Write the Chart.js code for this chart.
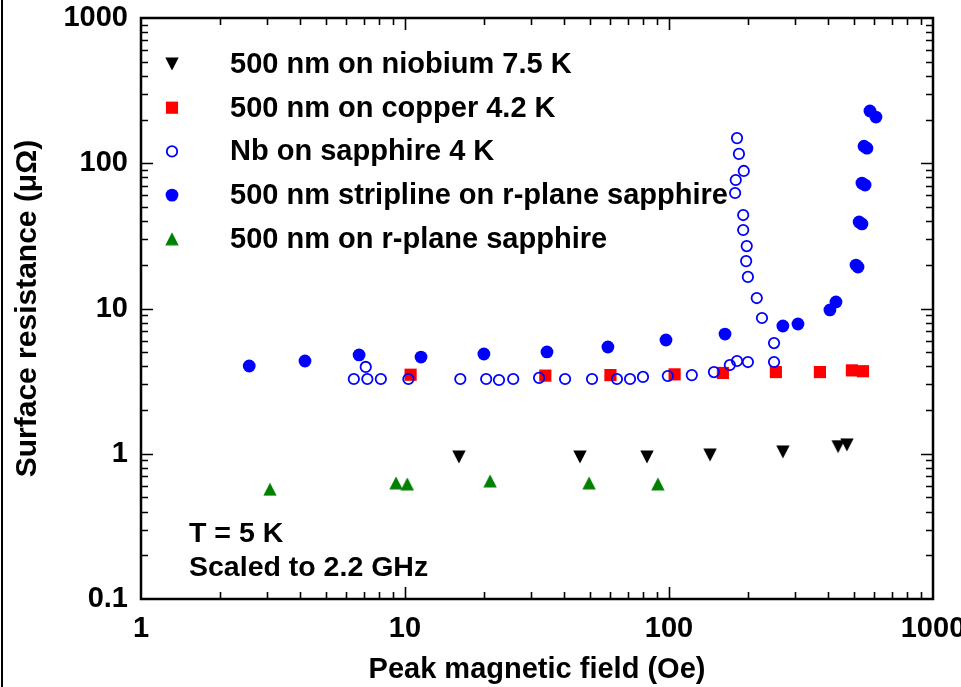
<!DOCTYPE html>
<html>
<head>
<meta charset="utf-8">
<script src="https://cdn.jsdelivr.net/npm/chart.js@4/dist/chart.umd.min.js"></script>
<style>
  html, body { margin: 0; padding: 0; background: #fff; }
  #wrap { width: 961px; height: 687px; position: relative; }
</style>
</head>
<body>
<div id="wrap"><canvas id="rs-chart"></canvas></div>
<script>
// Surface resistance vs peak magnetic field
var niobiumX = [16.0, 46, 82.5, 143, 270, 437, 472];
var niobiumY = [0.95, 0.95, 0.95, 0.98, 1.03, 1.12, 1.15];

var copperX = [10.5, 34, 60, 105, 160, 254, 373, 493, 543];
var copperY = [3.5, 3.45, 3.48, 3.52, 3.6, 3.65, 3.65, 3.75, 3.7];

var sapphireX = [6.4, 7.1, 7.2, 8.1, 10.3, 16.2, 20.3, 22.7, 25.7, 32.2, 40.4, 51.1, 63.5, 71.2, 79.7, 99, 122, 148, 170, 181, 199, 250,
                 250, 225, 215, 199, 196, 197, 191, 191, 178, 179, 192, 184, 181];
var sapphireY = [3.27, 3.96, 3.27, 3.27, 3.27, 3.27, 3.27, 3.22, 3.27, 3.33, 3.27, 3.27, 3.27, 3.27, 3.38, 3.43, 3.48, 3.65, 4.08, 4.35, 4.28, 4.28,
                 5.78, 8.6, 11.8, 16.5, 21.2, 26.9, 34.7, 44, 62.4, 76.7, 88.5, 116, 149];

var striplineX = [2.57, 4.18, 6.7, 11.5, 19.9, 34.5, 58.7, 97.4, 163, 270, 308, 407, 429, 511, 520, 525, 538, 538, 553, 548, 562, 577, 608];
var striplineY = [4.02, 4.35, 4.79, 4.63, 4.86, 5.02, 5.43, 6.07, 6.67, 7.58, 7.82, 9.77, 11.1, 19.9, 19.3, 39.4, 38.2, 73, 70.8, 131, 127, 229, 208];

var rplaneX = [3.08, 9.25, 10.2, 21.0, 49.8, 90.8];
var rplaneY = [0.57, 0.63, 0.62, 0.65, 0.63, 0.62];

var seriesLabels = [
    '500 nm on niobium 7.5 K',
    '500 nm on copper 4.2 K',
    'Nb on sapphire 4 K',
    '500 nm stripline on r-plane sapphire',
    '500 nm on r-plane sapphire'
];

var xTickValues = [1, 10, 100, 1000];
var xTickLabels = ['1', '10', '100', '1000'];
var yTickValues = [0.1, 1, 10, 100, 1000];
var yTickLabels = ['0.1', '1', '10', '100', '1000'];

var notes = ['T = 5 K', 'Scaled to 2.2 GHz'];

var FONT = '"Liberation Sans", Arial, sans-serif';

function pairs(xs, ys) {
    return xs.map(function (x, i) { return { x: x, y: ys[i] }; });
}

// the original triangles are a bit taller than equilateral, so draw them as small images
function triangleImage(color, down) {
    var c = document.createElement('canvas');
    c.width = 14;
    c.height = 14;
    var g = c.getContext('2d');
    g.fillStyle = color;
    g.beginPath();
    if (down) {
        g.moveTo(0.3, 0.5); g.lineTo(13.7, 0.5); g.lineTo(7, 13.5);
    } else {
        g.moveTo(7, 0.5); g.lineTo(13.7, 13.5); g.lineTo(0.3, 13.5);
    }
    g.closePath();
    g.fill();
    return c;
}

// ticks inside the box on all four sides, the box, frame line, legend and notes
var boxPlugin = {
    id: 'boxTicks',
    afterDraw: function (chart) {
        var ctx = chart.ctx;
        var a = chart.chartArea;
        var xs = chart.scales.x, ys = chart.scales.y;
        ctx.save();
        ctx.strokeStyle = '#000';
        ctx.lineWidth = 1.6;
        var d, m, v, p, len;
        for (d = 0; d < 3; d++) {
            for (m = 1; m <= 9; m++) {
                v = m * Math.pow(10, d);
                if (m === 1 && d === 0) continue;
                p = Math.round(xs.getPixelForValue(v)) + 0.5;
                len = (m === 1) ? 12 : 7;
                ctx.beginPath();
                ctx.moveTo(p, a.bottom); ctx.lineTo(p, a.bottom - len);
                ctx.moveTo(p, a.top); ctx.lineTo(p, a.top + len);
                ctx.stroke();
            }
        }
        for (d = -1; d < 3; d++) {
            for (m = 1; m <= 9; m++) {
                v = m * Math.pow(10, d);
                if (m === 1 && d === -1) continue;
                p = Math.round(ys.getPixelForValue(v)) + 0.5;
                len = (m === 1) ? 12 : 7;
                ctx.beginPath();
                ctx.moveTo(a.left, p); ctx.lineTo(a.left + len, p);
                ctx.moveTo(a.right, p); ctx.lineTo(a.right - len, p);
                ctx.stroke();
            }
        }
        ctx.lineWidth = 2.5;
        ctx.strokeRect(a.left, a.top, a.right - a.left, a.bottom - a.top);
        ctx.lineWidth = 2;
        ctx.beginPath();
        ctx.moveTo(2, 0); ctx.lineTo(2, chart.height);
        ctx.stroke();

        // legend, in series order
        ctx.font = 'bold 29px ' + FONT;
        ctx.textBaseline = 'middle';
        ctx.textAlign = 'left';
        seriesLabels.forEach(function (label, i) {
            var ds = chart.data.datasets.filter(function (s) { return s.label === label; })[0];
            var yy = 64 + i * 43.7;
            ctx.fillStyle = ds.backgroundColor;
            ctx.strokeStyle = ds.borderColor;
            ctx.lineWidth = ds.borderWidth;
            Chart.helpers.drawPoint(ctx, {
                pointStyle: ds.pointStyle,
                radius: ds.pointRadius,
                rotation: 0,
                borderWidth: ds.borderWidth
            }, a.left + 31, yy);
            ctx.fillStyle = '#000';
            ctx.fillText(label, a.left + 89, yy + 1);
        });

        // notes
        ctx.font = 'bold 28.5px ' + FONT;
        ctx.fillStyle = '#000';
        notes.forEach(function (t, i) {
            ctx.fillText(t, a.left + 48, 534 + i * 34);
        });
        ctx.restore();
    }
};

var canvas = document.getElementById('rs-chart');
canvas.width = 961;
canvas.height = 687;

var chart = new Chart(canvas, {
    type: 'scatter',
    data: {
        datasets: [{
            label: seriesLabels[2],
            data: pairs(sapphireX, sapphireY),
            pointStyle: 'circle',
            pointRadius: 5.2,
            borderWidth: 1.8,
            borderColor: '#0000ff',
            backgroundColor: 'rgba(255,255,255,0)'
        }, {
            label: seriesLabels[0],
            data: pairs(niobiumX, niobiumY),
            pointStyle: triangleImage('#000000', true),
            pointRadius: 7,
            borderWidth: 0,
            borderColor: '#000',
            backgroundColor: '#000'
        }, {
            label: seriesLabels[1],
            data: pairs(copperX, copperY),
            pointStyle: 'rect',
            pointRadius: 8.6,
            borderWidth: 0,
            borderColor: '#ff0000',
            backgroundColor: '#ff0000'
        }, {
            label: seriesLabels[3],
            data: pairs(striplineX, striplineY),
            pointStyle: 'circle',
            pointRadius: 6.4,
            borderWidth: 0,
            borderColor: '#0000ff',
            backgroundColor: '#0000ff'
        }, {
            label: seriesLabels[4],
            data: pairs(rplaneX, rplaneY),
            pointStyle: triangleImage('#008000', false),
            pointRadius: 7,
            borderWidth: 0,
            borderColor: '#008000',
            backgroundColor: '#008000'
        }]
    },
    options: {
        responsive: false,
        animation: false,
        devicePixelRatio: 1,
        layout: { padding: { top: 18, right: 28, left: 0, bottom: 0 } },
        plugins: {
            legend: { display: false },
            tooltip: { enabled: false }
        },
        scales: {
            x: {
                type: 'logarithmic',
                min: 1,
                max: 1000,
                afterBuildTicks: function (s) {
                    s.ticks = xTickValues.map(function (v) { return { value: v }; });
                },
                afterFit: function (s) {
                    s.height = 88;
                    s.paddingLeft = 0;
                    s.paddingRight = 0;
                },
                grid: { display: false, drawTicks: false },
                border: { display: false },
                ticks: {
                    autoSkip: false,
                    maxRotation: 0,
                    padding: 13,
                    color: '#000',
                    font: { family: FONT, size: 29, weight: 'bold' },
                    callback: function (v) {
                        var i = xTickValues.indexOf(v);
                        return i < 0 ? '' : xTickLabels[i];
                    }
                },
                title: {
                    display: true,
                    text: 'Peak magnetic field (Oe)',
                    color: '#000',
                    font: { family: FONT, size: 29, weight: 'bold' },
                    padding: { top: 0, bottom: 0 }
                }
            },
            y: {
                type: 'logarithmic',
                min: 0.1,
                max: 1000,
                afterBuildTicks: function (s) {
                    s.ticks = yTickValues.map(function (v) { return { value: v }; });
                },
                afterFit: function (s) {
                    s.width = 141;
                    s.paddingTop = 0;
                    s.paddingBottom = 0;
                },
                grid: { display: false, drawTicks: false },
                border: { display: false },
                ticks: {
                    autoSkip: false,
                    padding: 13,
                    color: '#000',
                    font: { family: FONT, size: 29, weight: 'bold' },
                    callback: function (v) {
                        var i = yTickValues.indexOf(v);
                        return i < 0 ? '' : yTickLabels[i];
                    }
                },
                title: {
                    display: true,
                    text: 'Surface resistance (\u03bc\u03a9)',
                    color: '#000',
                    font: { family: FONT, size: 30, weight: 'bold' },
                    padding: { top: 10, bottom: 0 }
                }
            }
        }
    },
    plugins: [boxPlugin]
});
</script>
</body>
</html>
